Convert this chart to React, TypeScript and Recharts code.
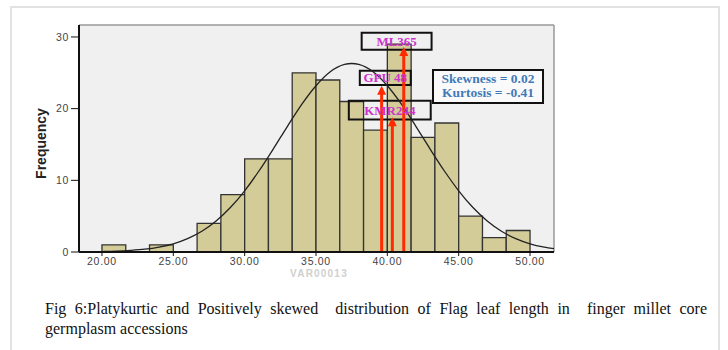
import React from 'react';
import {
  ComposedChart, Line, XAxis, YAxis, ReferenceArea, ReferenceLine, CartesianGrid,
} from 'recharts';

// Histogram bins (Flag leaf length), 18 bins from 20 to 50
const binStarts = [20, 21.667, 23.333, 25, 26.667, 28.333, 30, 31.667, 33.333, 35, 36.667, 38.333, 40, 41.667, 43.333, 45, 46.667, 48.333];
const binEnds = [21.667, 23.333, 25, 26.667, 28.333, 30, 31.667, 33.333, 35, 36.667, 38.333, 40, 41.667, 43.333, 45, 46.667, 48.333, 50];
const frequencies = [1, 0, 1, 0, 4, 8, 13, 13, 25, 24, 21, 17, 29, 16, 18, 5, 2, 3];

// Normal curve
const curveX = [18.4, 20, 21, 22, 23, 24, 25, 26, 27, 28, 29, 30, 31, 32, 33, 34, 35, 36, 37, 37.5, 38, 39, 40, 41, 42, 43, 44, 45, 46, 47, 48, 49, 50, 51, 51.68];
const curveY = [0.02, 0.06, 0.11, 0.22, 0.39, 0.69, 1.15, 1.87, 2.9, 4.33, 6.2, 8.54, 11.3, 14.36, 17.54, 20.6, 23.2, 25.15, 26.17, 26.3, 26.17, 25.15, 23.2, 20.6, 17.54, 14.36, 11.3, 8.54, 6.2, 4.33, 2.9, 1.87, 1.15, 0.69, 0.47];

const xTicks = [20, 25, 30, 35, 40, 45, 50];
const yTicks = [0, 10, 20, 30];
const X_MIN = 18.39;
const X_MAX = 51.68;
const Y_MAX = 31.67;

// Accession markers (arrows)
const markerNames = ['GPU 48', 'KMR244', 'ML365'];
const markerX = [39.6, 40.35, 41.15];
const markerTop = [23.2, 18.8, 28.6];

// Label boxes
const boxText = ['ML365', 'GPU 48', 'KMR244'];
const boxX1 = [38.2, 38.07, 37.3];
const boxX2 = [43.1, 41.64, 43.04];
const boxY1 = [28.2, 23.3, 18.5];
const boxY2 = [30.6, 25.3, 21.1];

const statsLines = ['Skewness = 0.02', 'Kurtosis = -0.41'];
const statsBox = { x1: 43.2, x2: 50.91, y1: 20.79, y2: 25.39 };

const xLabel = 'VAR00013';
const caption =
  'Fig 6:Platykurtic and Positively skewed  distribution of Flag leaf length in  finger millet core germplasm accessions';

const curveData = curveX.map((x, i) => ({ x, f: curveY[i] }));

const Arrow = (props: any) => {
  const { x1, y1, x2, y2 } = props;
  const top = Math.min(y1, y2);
  const bottom = Math.max(y1, y2);
  const x = x1;
  return (
    <g>
      <line x1={x} y1={bottom} x2={x} y2={top + 7} stroke="#ff2a00" strokeWidth={3} />
      <polygon points={`${x - 4.5},${top + 9} ${x + 4.5},${top + 9} ${x},${top}`} fill="#ff2a00" />
    </g>
  );
};

export default function App() {
  return (
    <div style={{ position: 'absolute', left: 0, top: 0, width: 728, height: 350, background: '#fff', overflow: 'hidden' }}>
      <div style={{ position: 'absolute', left: 10, top: 6, width: 710, height: 400, border: '2px solid #e2e2e2', boxSizing: 'border-box' }} />
      <div style={{ position: 'absolute', left: 0, top: 0 }}>
        <ComposedChart
          width={728}
          height={350}
          data={curveData}
          margin={{ top: 25, right: 174, left: 19, bottom: 68 }}
        >
          <CartesianGrid horizontal={false} vertical={false} fill="#f0f0f0" />
          <XAxis
            dataKey="x"
            type="number"
            domain={[X_MIN, X_MAX]}
            allowDataOverflow
            ticks={xTicks}
            tickFormatter={(v: number) => v.toFixed(2)}
            axisLine={{ stroke: '#111', strokeWidth: 2 }}
            tickLine={{ stroke: '#111' }}
            tickSize={4}
            height={30}
            tick={{ fill: '#444', fontSize: 10.5, fontFamily: 'Liberation Sans, Arial', letterSpacing: 0.7 }}
          />
          <YAxis
            type="number"
            domain={[0, Y_MAX]}
            allowDataOverflow
            ticks={yTicks}
            width={60}
            axisLine={{ stroke: '#111', strokeWidth: 2 }}
            tickLine={{ stroke: '#111' }}
            tickSize={8}
            tick={{ fill: '#444', fontSize: 10.5, fontFamily: 'Liberation Sans, Arial', letterSpacing: 0.7 }}
            label={{
              content: (p: any) => {
                const vb = p.viewBox || {};
                const cx = (vb.x ?? 19) + 22;
                const cy = (vb.y ?? 25) + (vb.height ?? 227) / 2 + 5;
                return (
                  <text
                    x={cx}
                    y={cy}
                    transform={`rotate(-90 ${cx} ${cy})`}
                    textAnchor="middle"
                    dominantBaseline="central"
                    fontFamily="Liberation Sans Narrow, Arial Narrow, Liberation Sans"
                    fontWeight="bold"
                    fontSize={14}
                    fill="#222"
                  >
                    Frequency
                  </text>
                );
              },
            }}
          />
          <ReferenceLine y={Y_MAX} stroke="#999" strokeWidth={1.5} />
          <ReferenceLine x={X_MAX} stroke="#999" strokeWidth={1.5} />
          {frequencies.map((f, i) =>
            f > 0 ? (
              <ReferenceArea
                key={`bin${i}`}
                x1={binStarts[i]}
                x2={binEnds[i]}
                y1={0}
                y2={f}
                fill="#d3cc98"
                fillOpacity={1}
                stroke="#333"
                strokeWidth={1.3}
              />
            ) : null
          )}
          <Line
            dataKey="f"
            type="monotone"
            stroke="#222"
            strokeWidth={1.3}
            dot={false}
            isAnimationActive={false}
          />
          {boxText.map((t, i) => (
            <ReferenceArea
              key={`box${i}`}
              x1={boxX1[i]}
              x2={boxX2[i]}
              y1={boxY1[i]}
              y2={boxY2[i]}
              fill="none"
              fillOpacity={0}
              stroke="#111"
              strokeWidth={2}
              label={{
                value: t,
                position: 'center',
                fill: '#cc33cc',
                fontSize: 13,
                fontWeight: 'bold',
                fontFamily: 'Liberation Serif, Times New Roman',
              }}
            />
          ))}
          <ReferenceArea
            x1={statsBox.x1}
            x2={statsBox.x2}
            y1={statsBox.y1}
            y2={statsBox.y2}
            fill="#fafafa"
            fillOpacity={1}
            stroke="#111"
            strokeWidth={2}
            label={{
              content: (p: any) => {
                const vb = p.viewBox || {};
                const cx = vb.x + vb.width / 2;
                return (
                  <text
                    textAnchor="middle"
                    fontFamily="Liberation Serif, Times New Roman"
                    fontWeight="bold"
                    fontSize={13.5}
                    fill="#3f7ab8"
                  >
                    <tspan x={cx} y={vb.y + 13}>{statsLines[0]}</tspan>
                    <tspan x={cx} y={vb.y + 27}>{statsLines[1]}</tspan>
                  </text>
                );
              },
            }}
          />
          {markerNames.map((n, i) => (
            <ReferenceLine
              key={n}
              segment={[{ x: markerX[i], y: 0 }, { x: markerX[i], y: markerTop[i] }]}
              stroke="#ff2a00"
              strokeWidth={3}
              shape={Arrow}
            />
          ))}
        </ComposedChart>
      </div>
      <div
        style={{
          position: 'absolute',
          left: 277,
          top: 268,
          width: 84,
          textAlign: 'center',
          fontFamily: 'Liberation Sans, Arial',
          fontSize: 10,
          fontWeight: 'bold',
          color: '#d0d0d0',
          letterSpacing: 1.2,
          lineHeight: '12px',
          whiteSpace: 'nowrap',
        }}
      >
        {xLabel}
      </div>
      <div
        style={{
          position: 'absolute',
          left: 45,
          top: 299,
          width: 662,
          fontFamily: 'Liberation Serif, Times New Roman, serif',
          fontSize: 16,
          lineHeight: '19.5px',
          color: '#111',
          textAlign: 'justify',
          whiteSpace: 'pre-wrap',
        }}
      >
        {caption}
      </div>
    </div>
  );
}
